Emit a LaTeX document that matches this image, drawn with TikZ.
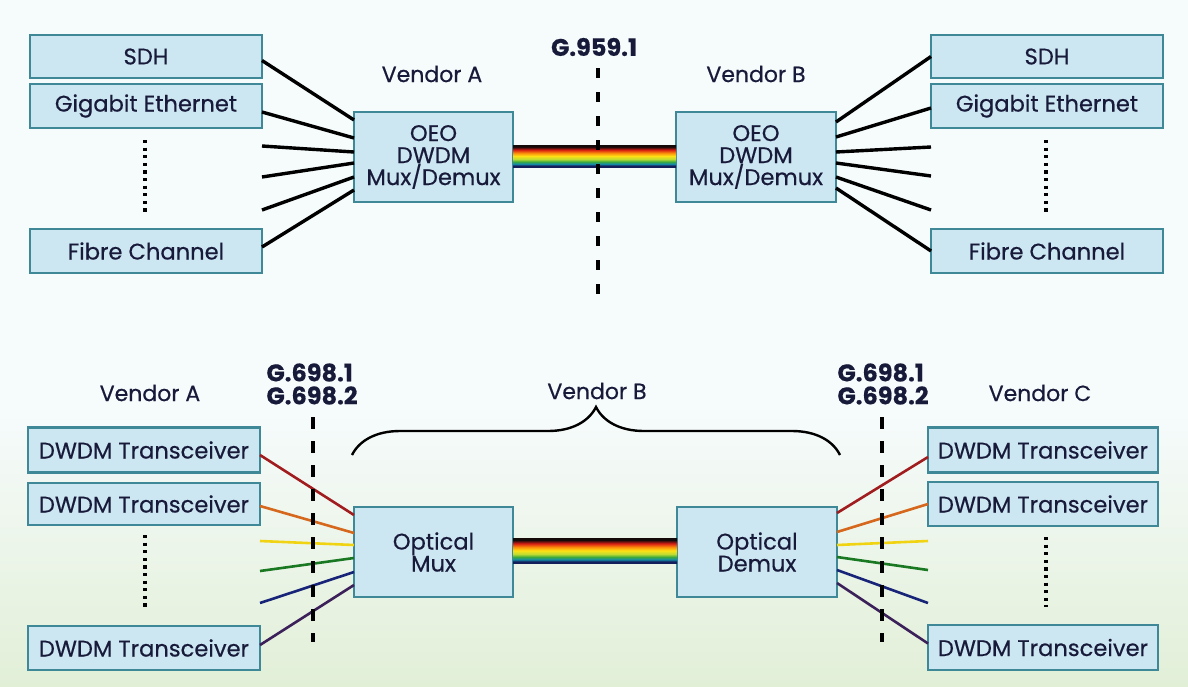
\documentclass[tikz,border=0pt]{standalone}
\usepackage{fontspec}
\setmainfont{Poppins}[FakeBold=0.5]
\usetikzlibrary{calc,decorations.pathreplacing}
\definecolor{boxFill}{RGB}{205,231,242}
\definecolor{boxLine}{RGB}{62,136,152}
\definecolor{inkNavy}{RGB}{24,26,58}
\definecolor{bgTop}{RGB}{246,251,252}
\definecolor{bgBot}{RGB}{226,239,215}
\definecolor{fibRed}{RGB}{160,28,30}
\definecolor{fibOrange}{RGB}{214,104,30}
\definecolor{fibYellow}{RGB}{240,212,20}
\definecolor{fibGreen}{RGB}{26,120,34}
\definecolor{fibBlue}{RGB}{24,36,120}
\definecolor{fibPurple}{RGB}{60,32,90}
\definecolor{bandNavy}{RGB}{20,30,90}
\definecolor{bandTeal}{RGB}{20,140,170}
\definecolor{bandGreen}{RGB}{60,170,60}
\definecolor{bandLime}{RGB}{190,220,50}
\definecolor{bandYellow}{RGB}{255,225,20}
\definecolor{bandOrange}{RGB}{250,140,10}
\definecolor{bandRed}{RGB}{215,30,20}
\definecolor{bandDark}{RGB}{20,10,10}
\pgfdeclareverticalshading{rainbow}{100bp}{color(0bp)=(bandNavy); color(28bp)=(bandNavy);
  color(32bp)=(bandTeal); color(37bp)=(bandGreen); color(43bp)=(bandLime);
  color(50bp)=(bandYellow); color(57bp)=(bandOrange); color(64bp)=(bandRed);
  color(71bp)=(bandDark); color(100bp)=(bandDark)}
\pgfdeclareverticalshading{paper}{100bp}{color(0bp)=(bgBot); color(25bp)=(bgBot);
  color(45bp)=(bgTop); color(100bp)=(bgTop)}
\tikzset{
  box/.style={draw=boxLine, line width=1.2pt, fill=boxFill, inner sep=0pt, outer sep=0pt, text=inkNavy, align=center, font=\fontsize{11.3}{11}\selectfont},
  vendor/.style={text=inkNavy, font=\fontsize{11}{12}\selectfont},
  rec/.style={text=inkNavy, align=left, font=\bfseries\fontsize{12}{11.5}\selectfont},
  fibre/.style={line width=1.7pt, black},
  lambda/.style={line width=1.3pt},
  cut/.style={line width=2.4pt, dash pattern=on 6pt off 6pt},
  more/.style={line width=1.8pt, dash pattern=on 1.6pt off 2.2pt},
  brace/.style={decorate, decoration={brace, amplitude=24pt}, line width=1.2pt}
}

\begin{document}
\begin{tikzpicture}[x=0.5pt,y=-0.5pt]
  \useasboundingbox (0,0) rectangle (1188,686);
  \shade[shading=paper] (0,0) rectangle (1188,686);

  % top: OEO transponders
  \node[box, minimum width=116pt, minimum height=21.5pt] (sdhA) at (146,56.5) {SDH};
  \node[box, minimum width=116pt, minimum height=22pt] (gbeA) at (146,106) {Gigabit Ethernet};
  \node[box, minimum width=116pt, minimum height=22pt] (fcA) at (146,251) {Fibre Channel};
  \node[box, minimum width=79.5pt, minimum height=45pt] (oeoA) at (433.5,157) {OEO\\DWDM\\Mux/Demux};
  \node[box, minimum width=80pt, minimum height=45pt] (oeoB) at (756,157) {OEO\\DWDM\\Mux/Demux};
  \node[box, minimum width=116pt, minimum height=21.5pt] (sdhB) at (1047,56.5) {SDH};
  \node[box, minimum width=116pt, minimum height=22pt] (gbeB) at (1047,106) {Gigabit Ethernet};
  \node[box, minimum width=116pt, minimum height=22pt] (fcB) at (1047,251) {Fibre Channel};
  \node[vendor] (vendA) at (432,74) {Vendor A};
  \node[vendor] (vendB) at (756,74) {Vendor B};
  \node[rec] (g959) at (594,47) {G.959.1};

  \coordinate (freeA1) at (262,146);
  \coordinate (freeA2) at (262,177);
  \coordinate (freeA3) at (262,210);
  \coordinate (freeB1) at (931,147);
  \coordinate (freeB2) at (931,176);
  \coordinate (freeB3) at (931,210);
  \coordinate (dotsA1) at (145,140);
  \coordinate (dotsA2) at (145,212);
  \coordinate (dotsB1) at (1046,140);
  \coordinate (dotsB2) at (1046,212);
  \coordinate (cutT1) at (598,68);
  \coordinate (cutT2) at (598,296);

  \draw[fibre] ($(sdhA.east)+(0,4)$) -- ($(oeoA.west)+(0,-37)$);
  \draw[fibre] ($(gbeA.east)+(0,6)$) -- ($(oeoA.west)+(0,-19)$);
  \draw[fibre] (freeA1) -- ($(oeoA.west)+(0,-5)$);
  \draw[fibre] (freeA2) -- ($(oeoA.west)+(0,6)$);
  \draw[fibre] (freeA3) -- ($(oeoA.west)+(0,20)$);
  \draw[fibre] ($(fcA.east)+(0,-4)$) -- ($(oeoA.west)+(0,33)$);
  \draw[fibre] (sdhB.west) -- ($(oeoB.east)+(0,-35)$);
  \draw[fibre] ($(gbeB.west)+(0,2)$) -- ($(oeoB.east)+(0,-20)$);
  \draw[fibre] (freeB1) -- ($(oeoB.east)+(0,-5)$);
  \draw[fibre] (freeB2) -- ($(oeoB.east)+(0,6)$);
  \draw[fibre] (freeB3) -- ($(oeoB.east)+(0,20)$);
  \draw[fibre] (fcB.west) -- ($(oeoB.east)+(0,31)$);
  \shade[shading=rainbow] ($(oeoA.east)+(0,-12)$) rectangle ($(oeoB.west)+(0,10)$);
  \draw[more] (dotsA1) -- (dotsA2);
  \draw[more] (dotsB1) -- (dotsB2);
  \draw[cut, dash pattern=on 5pt off 7pt] (cutT1) -- (cutT2);

  % bottom: black-link transceivers
  \node[box, minimum width=116pt, minimum height=22.5pt] (trxA1) at (144,450) {DWDM Transceiver};
  \node[box, minimum width=116pt, minimum height=21pt] (trxA2) at (144,504) {DWDM Transceiver};
  \node[box, minimum width=116pt, minimum height=22pt] (trxA3) at (144,648) {DWDM Transceiver};
  \node[box, minimum width=79.5pt, minimum height=45pt] (mux) at (433.5,552) {Optical\\Mux};
  \node[box, minimum width=80pt, minimum height=45pt] (demux) at (757,552) {Optical\\Demux};
  \node[box, minimum width=115pt, minimum height=22.5pt] (trxC1) at (1043,450) {DWDM Transceiver};
  \node[box, minimum width=115pt, minimum height=22pt] (trxC2) at (1043,504) {DWDM Transceiver};
  \node[box, minimum width=115pt, minimum height=22.5pt] (trxC3) at (1043,647.5) {DWDM Transceiver};
  \node[vendor] (vendAbot) at (150,393) {Vendor A};
  \node[vendor] (vendBbot) at (597,391) {Vendor B};
  \node[vendor] (vendC) at (1040,393) {Vendor C};
  \node[rec] (g698L) at (312,384) {G.698.1\\G.698.2};
  \node[rec] (g698R) at (883,384) {G.698.1\\G.698.2};

  \coordinate (freeL1) at (260,541);
  \coordinate (freeL2) at (260,571);
  \coordinate (freeL3) at (260,603);
  \coordinate (freeR1) at (928,541);
  \coordinate (freeR2) at (928,570);
  \coordinate (freeR3) at (928,603);
  \coordinate (dotsL1) at (145,535);
  \coordinate (dotsL2) at (145,607);
  \coordinate (dotsR1) at (1046,537);
  \coordinate (dotsR2) at (1046,607);
  \coordinate (cutL1) at (313,417);
  \coordinate (cutL2) at (313,642);
  \coordinate (cutR1) at (882,417);
  \coordinate (cutR2) at (882,642);
  \coordinate (braceL) at (352,455);
  \coordinate (braceR) at (840,455);

  \draw[lambda, fibRed] ($(trxA1.east)+(0,5)$) -- ($(mux.west)+(0,-37)$);
  \draw[lambda, fibOrange] ($(trxA2.east)+(0,2)$) -- ($(mux.west)+(0,-19)$);
  \draw[lambda, fibYellow] (freeL1) -- ($(mux.west)+(0,-7)$);
  \draw[lambda, fibGreen] (freeL2) -- ($(mux.west)+(0,6)$);
  \draw[lambda, fibBlue] (freeL3) -- ($(mux.west)+(0,20)$);
  \draw[lambda, fibPurple] ($(trxA3.east)+(0,-3)$) -- ($(mux.west)+(0,33)$);
  \draw[lambda, fibRed] ($(trxC1.west)+(0,7)$) -- ($(demux.east)+(0,-39)$);
  \draw[lambda, fibOrange] (trxC2.west) -- ($(demux.east)+(0,-20)$);
  \draw[lambda, fibYellow] (freeR1) -- ($(demux.east)+(0,-7)$);
  \draw[lambda, fibGreen] (freeR2) -- ($(demux.east)+(0,5)$);
  \draw[lambda, fibBlue] (freeR3) -- ($(demux.east)+(0,18)$);
  \draw[lambda, fibPurple] ($(trxC3.west)+(0,-4)$) -- ($(demux.east)+(0,31)$);
  \shade[shading=rainbow] ($(mux.east)+(0,-14)$) rectangle ($(demux.west)+(0,11)$);
  \draw[more] (dotsL1) -- (dotsL2);
  \draw[more] (dotsR1) -- (dotsR2);
  \draw[cut] (cutL1) -- (cutL2);
  \draw[cut] (cutR1) -- (cutR2);
  \draw[brace] (braceL) -- (braceR);
\end{tikzpicture}
\end{document}
